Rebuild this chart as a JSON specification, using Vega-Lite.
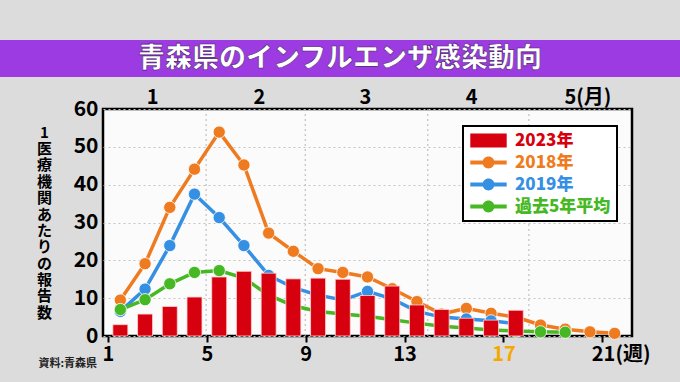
{
  "$schema": "https://vega.github.io/schema/vega-lite/v6.json",
  "background": "#dcdcdc",
  "padding": {"left": 0, "top": 40, "right": 0, "bottom": 12},
  "config": {
    "font": "Noto Sans CJK JP",
    "view": {"stroke": null},
    "axis": {"labelOverlap": false, "labelBound": false},
    "axisY": {"labelOverlap": false, "tickCount": 7}
  },
  "bounds": "flush",
  "align": "none",
  "spacing": 32,
  "datasets": {
    "months": [{"boundary": 4.47}, {"boundary": 8.48}, {"boundary": 13.44}, {"boundary": 17.53}],
    "weekly": [
      {"week": 1, "series": "2023年", "value": 3.0},
      {"week": 2, "series": "2023年", "value": 5.8},
      {"week": 3, "series": "2023年", "value": 7.8},
      {"week": 4, "series": "2023年", "value": 10.3},
      {"week": 5, "series": "2023年", "value": 15.6},
      {"week": 6, "series": "2023年", "value": 17.1},
      {"week": 7, "series": "2023年", "value": 16.6},
      {"week": 8, "series": "2023年", "value": 15.1},
      {"week": 9, "series": "2023年", "value": 15.3},
      {"week": 10, "series": "2023年", "value": 15.0},
      {"week": 11, "series": "2023年", "value": 10.7},
      {"week": 12, "series": "2023年", "value": 13.2},
      {"week": 13, "series": "2023年", "value": 8.2},
      {"week": 14, "series": "2023年", "value": 7.0},
      {"week": 15, "series": "2023年", "value": 4.7},
      {"week": 16, "series": "2023年", "value": 4.2},
      {"week": 17, "series": "2023年", "value": 6.8},
      {"week": 1, "series": "2018年", "value": 9.5},
      {"week": 2, "series": "2018年", "value": 19.1},
      {"week": 3, "series": "2018年", "value": 34.0},
      {"week": 4, "series": "2018年", "value": 44.1},
      {"week": 5, "series": "2018年", "value": 53.9},
      {"week": 6, "series": "2018年", "value": 45.2},
      {"week": 7, "series": "2018年", "value": 27.2},
      {"week": 8, "series": "2018年", "value": 22.4},
      {"week": 9, "series": "2018年", "value": 17.8},
      {"week": 10, "series": "2018年", "value": 16.8},
      {"week": 11, "series": "2018年", "value": 15.6},
      {"week": 12, "series": "2018年", "value": 12.5},
      {"week": 13, "series": "2018年", "value": 9.1},
      {"week": 14, "series": "2018年", "value": 5.8},
      {"week": 15, "series": "2018年", "value": 7.3},
      {"week": 16, "series": "2018年", "value": 6.0},
      {"week": 17, "series": "2018年", "value": 5.0},
      {"week": 18, "series": "2018年", "value": 2.9},
      {"week": 19, "series": "2018年", "value": 1.8},
      {"week": 20, "series": "2018年", "value": 1.1},
      {"week": 21, "series": "2018年", "value": 0.7},
      {"week": 1, "series": "2019年", "value": 6.5},
      {"week": 2, "series": "2019年", "value": 12.4},
      {"week": 3, "series": "2019年", "value": 23.9},
      {"week": 4, "series": "2019年", "value": 37.5},
      {"week": 5, "series": "2019年", "value": 31.3},
      {"week": 6, "series": "2019年", "value": 23.9},
      {"week": 7, "series": "2019年", "value": 16.0},
      {"week": 8, "series": "2019年", "value": 12.8},
      {"week": 9, "series": "2019年", "value": 10.8},
      {"week": 10, "series": "2019年", "value": 9.5},
      {"week": 11, "series": "2019年", "value": 11.8},
      {"week": 12, "series": "2019年", "value": 9.8},
      {"week": 13, "series": "2019年", "value": 6.5},
      {"week": 14, "series": "2019年", "value": 5.0},
      {"week": 15, "series": "2019年", "value": 4.5},
      {"week": 16, "series": "2019年", "value": 4.0},
      {"week": 17, "series": "2019年", "value": 3.3},
      {"week": 1, "series": "過去5年平均", "value": 7.0},
      {"week": 2, "series": "過去5年平均", "value": 9.6},
      {"week": 3, "series": "過去5年平均", "value": 13.8},
      {"week": 4, "series": "過去5年平均", "value": 16.8},
      {"week": 5, "series": "過去5年平均", "value": 17.3},
      {"week": 6, "series": "過去5年平均", "value": 15.3},
      {"week": 7, "series": "過去5年平均", "value": 10.8},
      {"week": 8, "series": "過去5年平均", "value": 8.0},
      {"week": 9, "series": "過去5年平均", "value": 6.5},
      {"week": 10, "series": "過去5年平均", "value": 5.8},
      {"week": 11, "series": "過去5年平均", "value": 5.2},
      {"week": 12, "series": "過去5年平均", "value": 4.3},
      {"week": 13, "series": "過去5年平均", "value": 3.4},
      {"week": 14, "series": "過去5年平均", "value": 2.6},
      {"week": 15, "series": "過去5年平均", "value": 2.1},
      {"week": 16, "series": "過去5年平均", "value": 1.6},
      {"week": 17, "series": "過去5年平均", "value": 1.3},
      {"week": 18, "series": "過去5年平均", "value": 1.1},
      {"week": 19, "series": "過去5年平均", "value": 1.0}
    ]
  },
  "vconcat": [
    {
      "width": 680,
      "height": 37,
      "view": {"fill": "#9d3be2", "stroke": null},
      "data": {"values": [{"title": "青森県のインフルエンザ感染動向"}]},
      "mark": {"type": "text", "fontSize": 27, "fontWeight": 900, "color": "white", "font": "Noto Sans CJK JP", "baseline": "middle", "align": "center", "stroke": "#4a1a70", "strokeWidth": 0.6},
      "encoding": {"text": {"field": "title"}}
    },
    {
      "hconcat": [
        {
          "width": 103,
          "height": 10,
          "view": {"stroke": null},
          "data": {"values": []},
          "mark": "point"
        },
        {
          "width": 529,
          "height": 227,
          "view": {"fill": "#fbfbfb", "stroke": "black", "strokeWidth": 2.5},
          "layer": [
            {
              "data": {"name": "months"},
              "mark": {"type": "rule", "strokeDash": [2, 3], "color": "#b4b4b4", "strokeWidth": 1},
              "encoding": {
                "x": {
                  "field": "boundary",
                  "type": "quantitative",
                  "scale": {"domain": [0.5, 21.5], "nice": false, "zero": false},
                  "axis": {
                    "orient": "top",
                    "values": [2.29, 6.61, 10.9, 15.19, 18.95],
                    "labelExpr": "datum.value < 4 ? '1' : datum.value < 8 ? '2' : datum.value < 12 ? '3' : datum.value < 17 ? '4' : '5(月)'",
                    "domain": false,
                    "ticks": false,
                    "grid": false,
                    "title": null,
                    "labelFontSize": 20,
                    "labelFontWeight": "bold",
                    "labelColor": "black",
                    "labelPadding": 2,
                    "labelFlush": false,
                    "labelOverlap": false,
                    "labelAlign": {"condition": {"test": "datum.value > 18", "value": "left"}, "value": "center"}
                  }
                }
              }
            },
            {
              "data": {"name": "weekly"},
              "transform": [{"filter": "datum.series != '2023年'"}],
              "mark": {"type": "line", "strokeWidth": 3.5, "point": {"filled": true, "size": 150, "stroke": "white", "strokeWidth": 0.8}},
              "encoding": {
                "x": {"field": "week", "type": "quantitative", "axis": null},
                "y": {
                  "field": "value",
                  "type": "quantitative",
                  "scale": {"domain": [0, 60], "nice": false},
                  "axis": {
                    "values": [0, 10, 20, 30, 40, 50, 60],
                    "grid": true,
                    "gridDash": [2, 3],
                    "gridColor": "#c4c4c4",
                    "gridWidth": 1,
                    "domain": false,
                    "ticks": false,
                    "labelFontSize": 21,
                    "labelFontWeight": "bold",
                    "labelColor": "black",
                    "labelPadding": 5,
                    "labelFlush": false,
                    "labelOverlap": false,
                    "labelBaseline": "middle",
                    "title": ["1", "医", "療", "機", "関", "あ", "た", "り", "の", "報", "告", "数"],
                    "titleAngle": 0,
                    "titleFontSize": 15,
                    "titleFontWeight": "bold",
                    "titleLineHeight": 16.4,
                    "titleX": -59,
                    "titleY": 16,
                    "titleAlign": "center",
                    "titleBaseline": "top",
                    "titleColor": "black"
                  }
                },
                "color": {
                  "field": "series",
                  "type": "nominal",
                  "scale": {
                    "domain": ["2023年", "2018年", "2019年", "過去5年平均"],
                    "range": ["#d7000f", "#ef7b20", "#3590e4", "#45b823"]
                  },
                  "legend": {
                    "title": null,
                    "orient": "none",
                    "legendX": 463,
                    "legendY": 86,
                    "fillColor": "white",
                    "strokeColor": "black",
                    "padding": 6,
                    "labelFontSize": 17,
                    "labelFontWeight": 900,
                    "labelFont": "Noto Sans CJK JP",
                    "symbolSize": 196,
                    "symbolOffset": 11,
                    "labelOffset": 18,
                    "rowPadding": 4,
                    "symbolStrokeWidth": 0,
                    "symbolOpacity": 1,
                    "encode": {
                      "symbols": {
                        "update": {
                          "shape": {"signal": "datum.value === '2023年' ? 'M-2.6,-1H2.6V1H-2.6Z' : 'M-2.6,-0.28H2.6V0.28H-2.6Z M-0.85,0A0.85,0.85 0 1,1 0.85,0A0.85,0.85 0 1,1 -0.85,0Z'"},
                          "fill": {"scale": "color", "field": "value"},
                          "stroke": {"value": "transparent"},
                          "strokeWidth": {"value": 0},
                          "opacity": {"value": 1}
                        }
                      },
                      "labels": {"update": {"fill": {"scale": "color", "field": "value"}}},
                      "legend": {"update": {"strokeWidth": {"value": 2}}}
                    }
                  }
                }
              }
            },
            {
              "data": {"name": "weekly"},
              "transform": [{"filter": "datum.series == '2023年'"}],
              "mark": {"type": "bar", "size": 15, "stroke": "#ffd6d6", "strokeWidth": 0.8},
              "encoding": {
                "x": {
                  "field": "week",
                  "type": "quantitative",
                  "axis": {
                    "orient": "bottom",
                    "values": [0.5, 4.5, 8.5, 12.5, 16.5, 20.5],
                    "labelExpr": "datum.value > 20 ? '21(週)' : format(datum.value + 0.5, 'd')",
                    "title": "資料:青森県",
                    "titleX": -65,
                    "titleY": 27,
                    "titleAnchor": "start",
                    "titleAlign": "left",
                    "titleBaseline": "middle",
                    "titleFontSize": 11,
                    "titleFontWeight": "bold",
                    "titleColor": "#222222",
                    "grid": false,
                    "domain": false,
                    "ticks": true,
                    "tickSize": 6,
                    "tickWidth": 2,
                    "tickColor": "black",
                    "labelFontSize": 20,
                    "labelFontWeight": "bold",
                    "labelColor": {"condition": {"test": "datum.value == 16.5", "value": "#f5a800"}, "value": "black"},
                    "labelPadding": 2,
                    "labelFlush": false,
                    "labelOverlap": false,
                    "labelAlign": {"condition": {"test": "datum.value > 20", "value": "left"}, "value": "center"},
                    "labelOffset": {"condition": {"test": "datum.value > 20", "value": -11}, "value": 0}
                  }
                },
                "y": {
                  "field": "value",
                  "type": "quantitative",
                  "scale": {"domain": [0, 60], "nice": false},
                  "axis": {
                    "values": [0, 10, 20, 30, 40, 50, 60],
                    "grid": true,
                    "gridDash": [2, 3],
                    "gridColor": "#c4c4c4",
                    "gridWidth": 1,
                    "domain": false,
                    "ticks": false,
                    "labelFontSize": 21,
                    "labelFontWeight": "bold",
                    "labelColor": "black",
                    "labelPadding": 5,
                    "labelFlush": false,
                    "labelOverlap": false,
                    "labelBaseline": "middle",
                    "title": ["1", "医", "療", "機", "関", "あ", "た", "り", "の", "報", "告", "数"],
                    "titleAngle": 0,
                    "titleFontSize": 15,
                    "titleFontWeight": "bold",
                    "titleLineHeight": 16.4,
                    "titleX": -59,
                    "titleY": 16,
                    "titleAlign": "center",
                    "titleBaseline": "top",
                    "titleColor": "black"
                  }
                },
                "color": {"field": "series", "type": "nominal"}
              }
            }
          ],
          "resolve": {"axis": {"x": "independent"}, "scale": {"x": "shared"}}
        }
      ],
      "spacing": 0,
      "bounds": "flush",
      "align": "none"
    }
  ]
}
